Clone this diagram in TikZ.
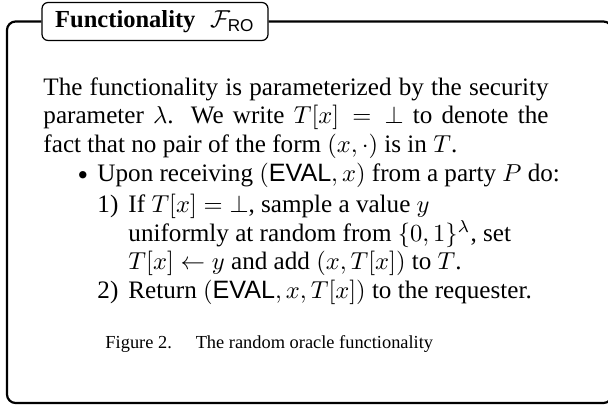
\documentclass[tikz,border=0pt]{standalone}
\usepackage{amsmath}
\usepackage[no-math]{fontspec}
\setmainfont{Liberation Serif}
\setsansfont{Liberation Sans}
\usetikzlibrary{positioning}

\newdimen\pxu
\pxu=0.408pt

\begin{document}
\begin{tikzpicture}[x=\pxu, y=-\pxu,
    txt/.style={anchor=base west, inner sep=0pt, font=\fontsize{10.25}{12}\selectfont},
    tab/.style={draw, rounded corners=2.5pt, line width=0.5pt, inner sep=0pt,
        minimum width=226\pxu, minimum height=38\pxu, font=\fontsize{10}{12}\selectfont},
    frame/.style={line width=0.9pt, rounded corners=3.5pt}]
        \useasboundingbox (0,0) rectangle (608,406);

        % Title tab and the frame round the text
        \node[tab] (title) at (155,21.5) {\textbf{Functionality}\hspace{6pt}$\mathcal{F}_{\textsf{RO}}$};
        \draw[frame] (title.west) -| (7,403) -| (612,21.5) -- (title.east);

        % Opening paragraph
        \node[txt] (par1) at (43,96) {\makebox[505\pxu][s]{The functionality is parameterized by the security}};
        \node[txt] (par2) at (43,124) {\makebox[505\pxu][s]{parameter $\lambda$. We write $T[x] = \bot$ to denote the}};
        \node[txt] (par3) at (43,152) {fact that no pair of the form $(x,\cdot)$ is in $T$.};

        % The bullet and its two steps
        \node[txt, anchor=center] (dot) at (83,176) {\fontsize{7}{8}\selectfont$\bullet$};
        \node[txt] (upon) at (97,182) {Upon receiving $(\textsf{EVAL}, x)$ from a party $P$ do:};
        \node[txt] (num1) at (97,212) {1)};
        \node[txt] (step1a) at (128,212) {If $T[x] = \bot$, sample a value $y$};
        \node[txt] (step1b) at (128,241) {uniformly at random from $\{0,1\}^\lambda$, set};
        \node[txt] (step1c) at (128,269) {$T[x] \gets y$ and add $(x,T[x])$ to $T$.};
        \node[txt] (num2) at (97,298) {2)};
        \node[txt] (step2) at (128,298) {Return $(\textsf{EVAL}, x, T[x])$ to the requester.};

        % Caption
        \node[txt] (cap) at (105,348) {\fontsize{7.5}{9}\selectfont Figure 2.\hspace{1.3em}The random oracle functionality};

    \end{tikzpicture}
\end{document}
